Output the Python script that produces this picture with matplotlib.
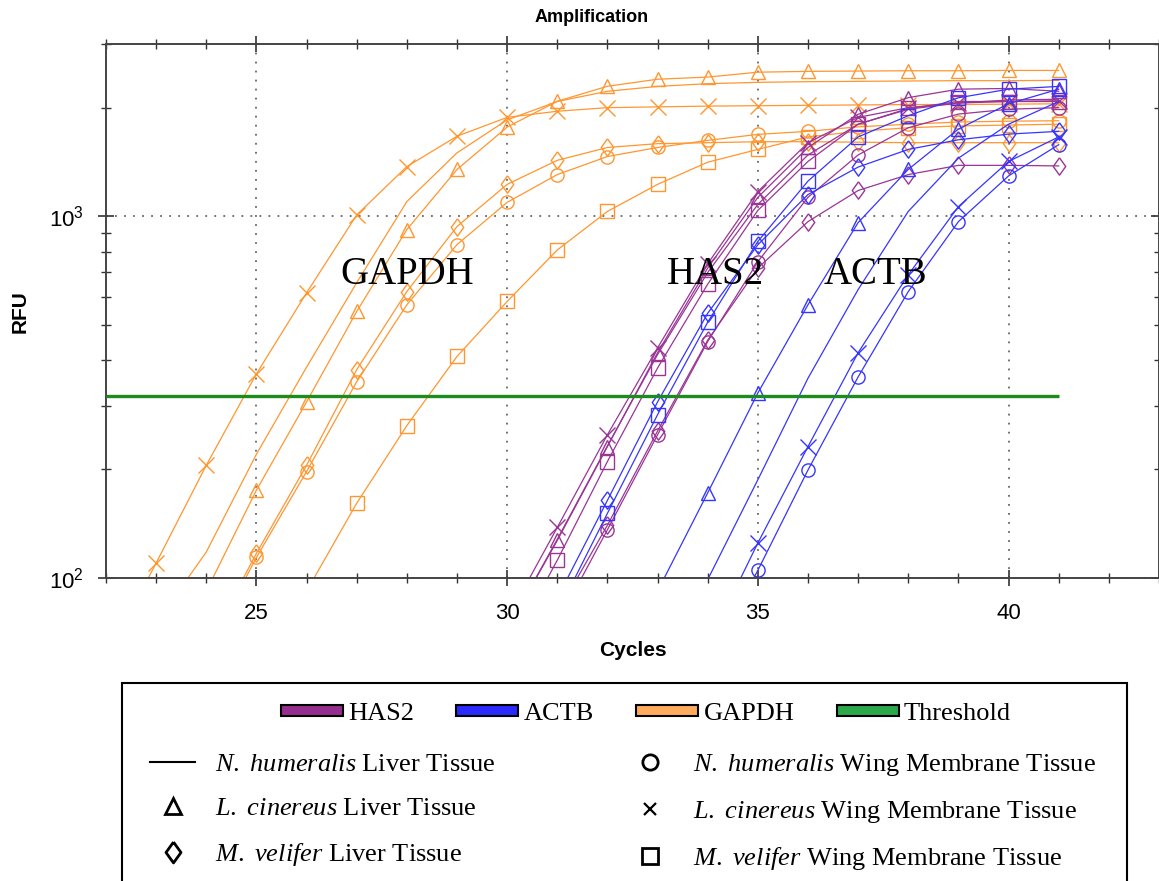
import numpy as np
import matplotlib
matplotlib.use("Agg")
import matplotlib.pyplot as plt
from matplotlib.lines import Line2D
from matplotlib.patches import Patch, Rectangle
from matplotlib.ticker import FixedLocator, NullFormatter, LogLocator

plt.rcParams["font.family"] = "Liberation Sans"
plt.rcParams["mathtext.fontset"] = "custom"
plt.rcParams["mathtext.rm"] = "Liberation Serif"
plt.rcParams["mathtext.it"] = "Liberation Serif:italic"
plt.rcParams["mathtext.sf"] = "Liberation Sans"

nan = np.nan
cycles = np.arange(22, 42)
threshold = 319

# GAPDH (RFU per cycle 22..41)
gapdh_nh_liver = [nan, 75, 118, 220, 383, 656, 1100, 1500, 1850, 2080, 2220, 2290, 2330, 2350, 2360, 2365, 2370, 2375, 2375, 2380]
gapdh_nh_wing = [nan, nan, 62, 114, 197, 349, 570, 836, 1094, 1306, 1465, 1552, 1624, 1687, 1720, 1770, 1800, 1825, 1835, 1840]
gapdh_lc_liver = [nan, 55, 92, 175, 307, 546, 920, 1349, 1767, 2083, 2292, 2397, 2430, 2507, 2520, 2525, 2530, 2530, 2535, 2535]
gapdh_lc_wing = [60, 110, 205, 367, 615, 1010, 1374, 1667, 1880, 1955, 2000, 2010, 2020, 2025, 2030, 2035, 2040, 2040, 2045, 2050]
gapdh_mv_liver = [nan, nan, 64, 117, 205, 377, 620, 938, 1227, 1430, 1552, 1590, 1600, 1610, 1610, 1605, 1600, 1600, 1600, 1600]
gapdh_mv_wing = [nan, nan, nan, 50, 92, 161, 264, 410, 582, 808, 1033, 1227, 1413, 1533, 1660, 1720, 1760, 1780, 1790, 1800]

# HAS2
has2_nh_liver = [nan, nan, nan, nan, nan, nan, nan, nan, 72, 128, 232, 415, 700, 1080, 1480, 1800, 1980, 2060, 2100, 2110]
has2_nh_wing = [nan, nan, nan, nan, nan, nan, nan, nan, nan, 75, 136, 249, 451, 750, 1130, 1480, 1760, 1920, 1980, 2000]
has2_lc_liver = [nan, nan, nan, nan, nan, nan, nan, nan, 72, 127, 231, 420, 720, 1130, 1552, 1918, 2132, 2250, 2260, 2220]
has2_lc_wing = [nan, nan, nan, nan, nan, nan, nan, nan, 77, 138, 249, 433, 740, 1172, 1600, 1880, 2000, 2060, 2080, 2090]
has2_mv_liver = [nan, nan, nan, nan, nan, nan, nan, nan, nan, 80, 140, 255, 455, 720, 968, 1180, 1306, 1385, 1385, 1380]
has2_mv_wing = [nan, nan, nan, nan, nan, nan, nan, nan, 62, 112, 210, 381, 650, 1040, 1420, 1800, 1990, 2080, 2080, 2080]

# ACTB
actb_nh_liver = [nan, nan, nan, nan, nan, nan, nan, nan, nan, nan, nan, 55, 99, 187, 357, 628, 1033, 1450, 1800, 2080]
actb_nh_wing = [nan, nan, nan, nan, nan, nan, nan, nan, nan, nan, nan, nan, 58, 105, 199, 360, 620, 968, 1295, 1580]
actb_lc_liver = [nan, nan, nan, nan, nan, nan, nan, nan, nan, nan, nan, 92, 172, 325, 570, 962, 1350, 1745, 2050, 2250]
actb_lc_wing = [nan, nan, nan, nan, nan, nan, nan, nan, nan, nan, nan, nan, 65, 125, 231, 420, 690, 1065, 1420, 1660]
actb_mv_liver = [nan, nan, nan, nan, nan, nan, nan, nan, nan, 88, 164, 307, 540, 835, 1150, 1370, 1533, 1630, 1690, 1720]
actb_mv_wing = [nan, nan, nan, nan, nan, nan, nan, nan, nan, 80, 151, 283, 510, 853, 1253, 1660, 1900, 2130, 2250, 2290]

genes = ["HAS2", "ACTB", "GAPDH"]
species = ["N. humeralis", "N. humeralis", "L. cinereus", "L. cinereus", "M. velifer", "M. velifer"]
tissues = ["Liver Tissue", "Wing Membrane Tissue"] * 3

line_colors = {"GAPDH": "#ff962f", "HAS2": "#9a3596", "ACTB": "#3535ff"}
patch_colors = {"HAS2": "#952e8f", "ACTB": "#2a2aff", "GAPDH": "#ffab5e"}
diamond = [(0, 1), (0.72, 0), (0, -1), (-0.72, 0), (0, 1)]
markers = [None, "o", "^", "x", diamond, "s"]
plot_ms = [0, 9.5, 9.5, 12, 12.5, 9.5]

series = {
    "GAPDH": [gapdh_nh_liver, gapdh_nh_wing, gapdh_lc_liver, gapdh_lc_wing, gapdh_mv_liver, gapdh_mv_wing],
    "HAS2": [has2_nh_liver, has2_nh_wing, has2_lc_liver, has2_lc_wing, has2_mv_liver, has2_mv_wing],
    "ACTB": [actb_nh_liver, actb_nh_wing, actb_lc_liver, actb_lc_wing, actb_mv_liver, actb_mv_wing],
}

fig = plt.figure(figsize=(11.59, 8.81), dpi=100)
ax = fig.add_axes([106 / 1159, 1 - 578 / 881, 1 - 106 / 1159, (578 - 44) / 881])

for gene in ["GAPDH", "HAS2", "ACTB"]:
    for vals, m, ms in zip(series[gene], markers, plot_ms):
        ax.plot(cycles, vals, color=line_colors[gene], lw=0.9, marker=m, ms=ms,
                mfc="none", mec=line_colors[gene], mew=1.0)

ax.hlines(threshold, cycles[0], cycles[-1], color="#1c8c1c", lw=2.4, zorder=5)

ax.set_yscale("log")
ax.set_xlim(22, 43)
ax.set_ylim(100, 3000)

ax.xaxis.set_major_locator(FixedLocator([25, 30, 35, 40]))
ax.xaxis.set_minor_locator(FixedLocator(list(range(22, 44))))
ax.yaxis.set_major_locator(FixedLocator([100, 1000]))
ax.yaxis.set_minor_locator(LogLocator(base=10, subs=np.arange(2, 10)))
ax.yaxis.set_minor_formatter(NullFormatter())
ax.set_yticklabels([r"$\mathsf{10^{2}}$", r"$\mathsf{10^{3}}$"])

ax.tick_params(which="major", direction="inout", length=12, width=1.2, color="#333333",
               labelsize=16, pad=10, top=True, right=True)
ax.tick_params(which="minor", direction="inout", length=7, width=1.0, color="#333333",
               top=True, right=True)
ax.tick_params(axis="x", which="both", pad=12)

for s in ax.spines.values():
    s.set_color("#444444")
    s.set_linewidth(1.4)

ax.grid(True, which="major", color="#666666", linestyle=(0, (1, 4)), lw=1.3)

ax.set_xlabel("Cycles", fontsize=15, fontweight="bold")
ax.set_ylabel("RFU", fontsize=15, fontweight="bold")
ax.xaxis.set_label_coords(0.5, -(641 - 578) / 534)
ax.yaxis.set_label_coords(-(106 - 30) / 1053, (578 - 312) / 534)
fig.text(592 / 1159, 1 - 18 / 881, "Amplification", ha="center", va="center",
         fontsize=13, fontweight="bold")

serif = "Liberation Serif"
ax.text(28.0, 690, "GAPDH", family=serif, fontsize=28, ha="center", va="center")
ax.text(34.15, 690, "HAS2", family=serif, fontsize=28, ha="center", va="center")
ax.text(37.35, 690, "ACTB", family=serif, fontsize=28, ha="center", va="center")

# legend
gene_handles = [Patch(facecolor=patch_colors[g], edgecolor="black", lw=1.5, label=g) for g in genes]
gene_handles.append(Patch(facecolor="#2aa84a", edgecolor="black", lw=1.5, label="Threshold"))
fig.legend(handles=gene_handles, loc="center", bbox_to_anchor=(646 / 1159, 1 - 714 / 881),
           ncol=4, frameon=False, prop={"family": serif, "size": 19},
           handlelength=2.35, handleheight=0.3, handletextpad=0.2, columnspacing=1.6)


def fmt(sp, tissue):
    genus, name = sp.split(" ")
    return r"$\mathit{" + genus + "}$ $\mathit{" + name + "}$ " + tissue


sample_handles = []
for sp, tissue, m in zip(species, tissues, markers):
    if m is None:
        h = Line2D([], [], color="black", lw=1.5)
    elif isinstance(m, str) and m == "x":
        h = Line2D([], [], ls="none", marker="x", ms=8, mec="black", mew=1.6)
    elif isinstance(m, list):
        h = Line2D([], [], ls="none", marker=m, ms=15, mfc="none", mec="black", mew=2)
    else:
        h = Line2D([], [], ls="none", marker=m, ms=11, mfc="none", mec="black", mew=2)
    sample_handles.append((h, fmt(sp, tissue)))
order = [0, 2, 4, 1, 3, 5]
fig.legend(handles=[sample_handles[i][0] for i in order],
           labels=[sample_handles[i][1] for i in order],
           loc="upper left", bbox_to_anchor=(137 / 1159, 1 - 739 / 881), ncol=2,
           frameon=False, prop={"family": serif, "size": 19}, borderpad=0,
           handlelength=1.7, handletextpad=0.76, columnspacing=5.0, labelspacing=0.78)

fig.patches.append(Rectangle((122 / 1159, -0.01), (1127 - 122) / 1159, 1 - 683 / 881 + 0.01,
                             transform=fig.transFigure, fill=False, ec="black", lw=1.5))

fig.savefig("out.png", dpi=100)
